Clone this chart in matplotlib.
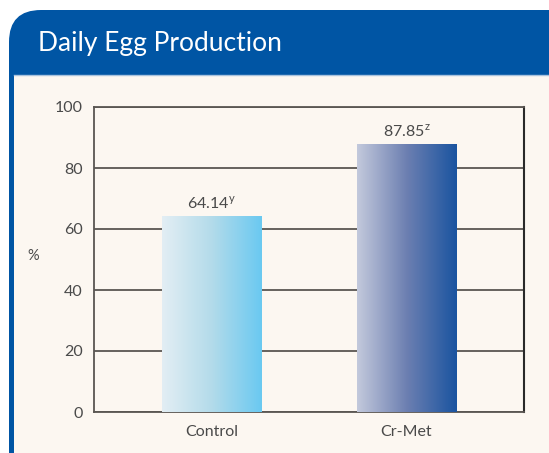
import numpy as np
import matplotlib.pyplot as plt
from matplotlib.patches import FancyBboxPatch, Rectangle
from matplotlib.colors import LinearSegmentedColormap

# values
groups = ['Control', 'Cr-Met']
egg_production = [64.14, 87.85]
letters = ['y', 'z']
yticks = [0, 20, 40, 60, 80, 100]

title = 'Daily Egg Production'
ylabel = '%'

blue = '#0055a4'
cream = '#fcf7f1'
text_col = '#4a4a4a'
grad_colors = [
    ['#e3eef4', '#b3dbea', '#6ac9f1'],
    ['#c3c9dc', '#6c7fb1', '#1a54a0'],
]

plt.rcParams['font.family'] = ['Lato', 'DejaVu Sans']

fig = plt.figure(figsize=(5.49, 4.53), dpi=100, facecolor='white')

# background frame, drawn in pixel units
bg = fig.add_axes([0, 0, 1, 1])
bg.set_xlim(0, 549)
bg.set_ylim(453, 0)
bg.axis('off')
bg.add_patch(FancyBboxPatch((9, 10), 600, 500,
                            boxstyle='round,pad=0,rounding_size=32',
                            facecolor=blue, edgecolor='none'))
bg.add_patch(Rectangle((14, 75), 600, 400, facecolor=cream, edgecolor='none'))
bg.plot([14, 549], [74.5, 74.5], color='#a9c3de', lw=1)
bg.text(38, 43, title, color='white', fontsize=19, va='center', ha='left')
bg.text(33, 256, ylabel, color=text_col, fontsize=10.5, va='center', ha='center')

# main chart
ax = fig.add_axes([94 / 549, 41 / 453, 430 / 549, 305 / 453])
ax.set_facecolor(cream)
x = np.arange(len(groups))
bars = ax.bar(x, egg_production, width=0.51, color='none', zorder=3)
ax.set_xlim(-0.6026, 1.6026)
ax.set_ylim(0, 100)

for bar, cols in zip(bars, grad_colors):
    cmap = LinearSegmentedColormap.from_list('g', cols)
    x0, w, h = bar.get_x(), bar.get_width(), bar.get_height()
    img = ax.imshow(np.linspace(0, 1, 256).reshape(1, -1), cmap=cmap,
                    extent=[x0, x0 + w, 0, h], aspect='auto', zorder=3)
    img.set_clip_path(bar)

for xi, v, s in zip(x, egg_production, letters):
    ax.text(xi, v + 1.5, f'{v:.2f}' + r'$^{\mathregular{' + s + '}}$',
            ha='center', va='bottom', color=text_col, fontsize=11.5)

ax.set_yticks(yticks)
ax.set_xticks(x)
ax.set_xticklabels(groups)
ax.yaxis.grid(True, color='#5a5652', lw=1.3, zorder=1)
ax.set_axisbelow(True)
ax.tick_params(axis='y', length=0, pad=8, labelsize=11.5, labelcolor=text_col)
ax.tick_params(axis='x', length=0, pad=9, labelsize=11.5, labelcolor=text_col)
for side in ['left', 'bottom', 'top']:
    ax.spines[side].set_color('#5a5652')
    ax.spines[side].set_linewidth(1.3)
ax.spines['right'].set_color('#2a2a2a')
ax.spines['right'].set_linewidth(1.5)

fig.savefig('out.png', dpi=100, facecolor=fig.get_facecolor())
